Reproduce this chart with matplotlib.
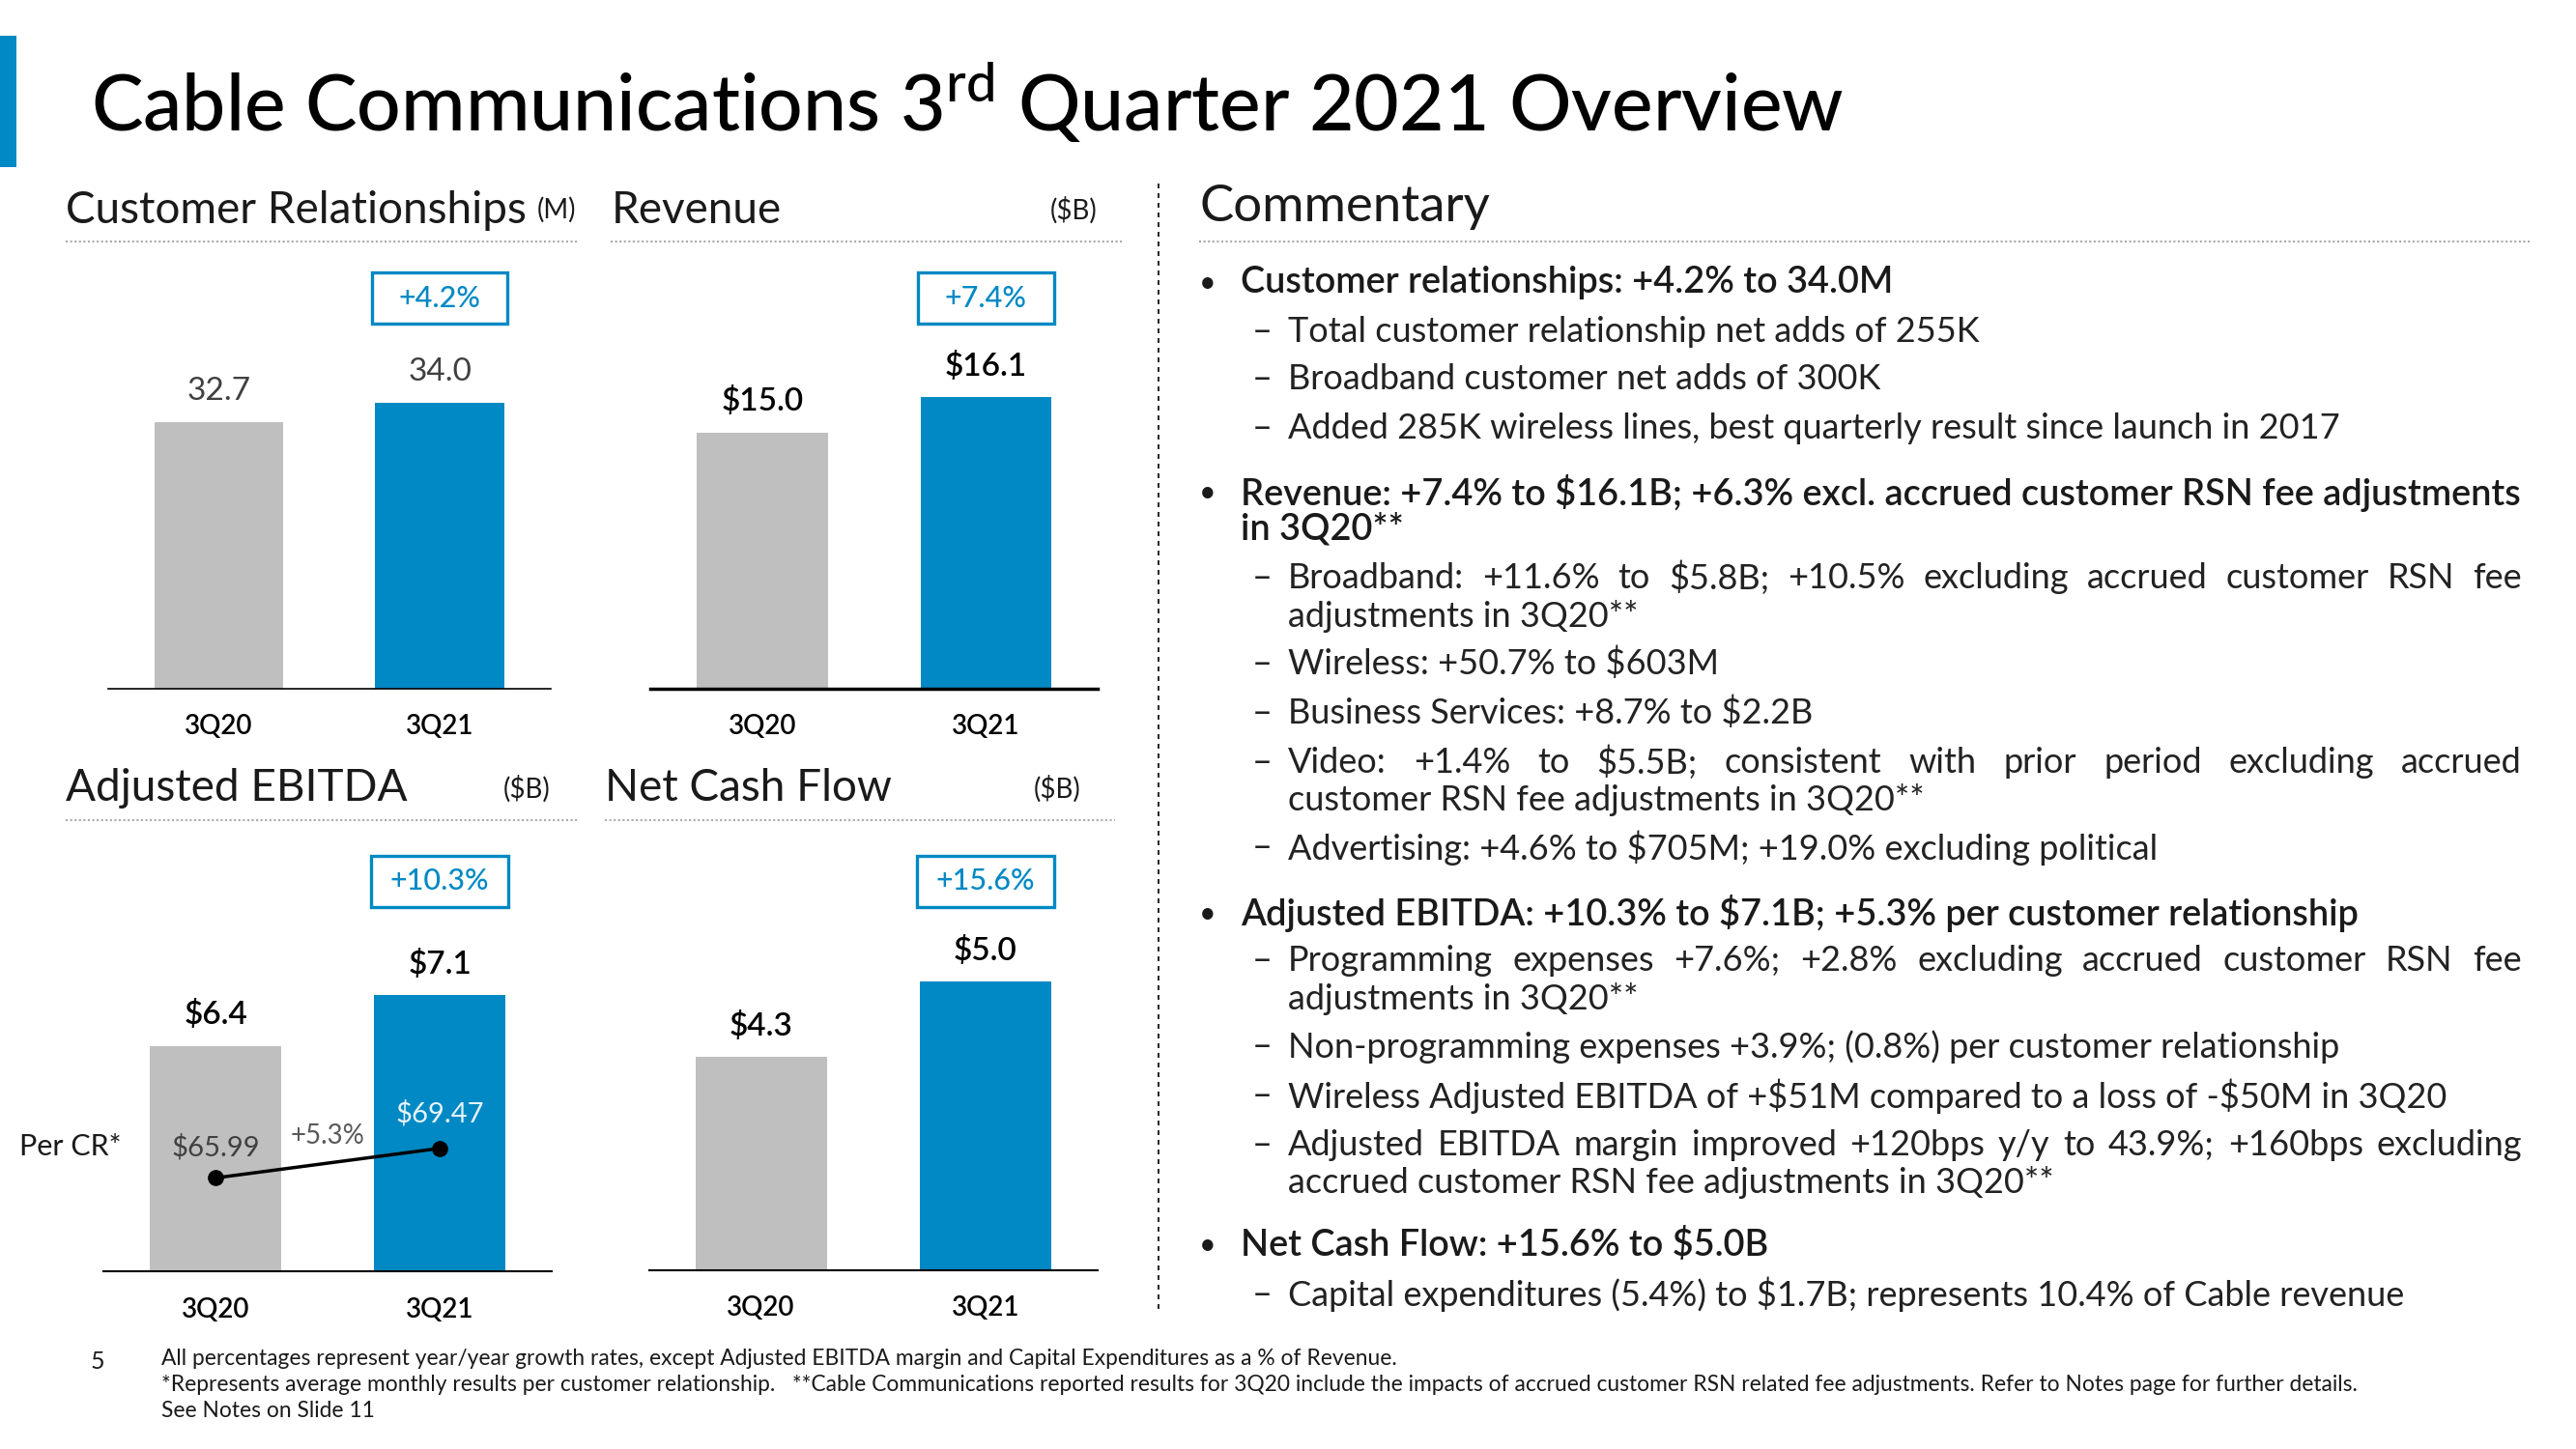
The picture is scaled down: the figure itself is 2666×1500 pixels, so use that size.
import matplotlib
matplotlib.use('Agg')
import matplotlib.pyplot as plt
import matplotlib.transforms as mtransforms
from matplotlib.lines import Line2D
from matplotlib.patches import Rectangle

plt.rcParams['font.family'] = ['Lato', 'DejaVu Sans']

# Datos
quarters = ['3Q20', '3Q21']
cust_rel = [32.7, 34.0]
revenue = [15.0, 16.1]
ebitda = [6.4, 7.1]
net_cash = [4.3, 5.0]
ebitda_per_cr = [65.99, 69.47]
growth = {'cr': '+4.2%', 'rev': '+7.4%', 'ebitda': '+10.3%', 'ncf': '+15.6%'}
per_cr_growth = '+5.3%'

BLUE = '#0089C4'
GRAY = '#BFBFBF'
DARK = '#1A1A1A'

# coordenadas de la diapositiva (vista 1568x882) -> fracción de figura
W, H = 1568, 882
def fx(x):
    return x / W
def fy(y):
    return 1 - y / H

fig = plt.figure(figsize=(26.66, 15), dpi=100)
renderer = fig.canvas.get_renderer()

# barra azul y título
fig.add_artist(Rectangle((0, fy(102)), fx(10), fy(22) - fy(102),
                         transform=fig.transFigure, color=BLUE, lw=0))
fig.text(fx(55), fy(62), r'Cable Communications 3$^{\mathregular{rd}}$ Quarter 2021 Overview',
         fontsize=58, weight='medium', color='black', va='center', ha='left')


def dotted(x0, x1, y):
    fig.add_artist(Line2D([fx(x0), fx(x1)], [fy(y), fy(y)], transform=fig.transFigure,
                          color='#AAAAAA', lw=1.5, linestyle=(0, (1, 1.2))))


def bar_panel(x0, x1, ybase, ytop, values, fmt, gtxt, ylim, box_y, base_lw,
              lab_color='black', lab_weight='semibold'):
    ax = fig.add_axes([fx(x0), fy(ybase), fx(x1) - fx(x0), fy(ytop) - fy(ybase)])
    ax.bar(range(len(values)), values, width=0.585, color=[GRAY, BLUE])
    ax.set_xlim(-0.5, 1.5)
    ax.set_ylim(ylim)
    for s in ['left', 'right', 'top']:
        ax.spines[s].set_visible(False)
    ax.spines['bottom'].set_linewidth(base_lw)
    ax.set_yticks([])
    ax.set_xticks(range(len(quarters)))
    ax.set_xticklabels(quarters, fontsize=20, weight='semibold', color='black')
    ax.tick_params(axis='x', length=0, pad=19)
    ax.patch.set_alpha(0)
    for i, v in enumerate(values):
        ax.annotate(fmt.format(v), (i, v), xytext=(0, 23), textcoords='offset points',
                    ha='center', va='center', fontsize=24, color=lab_color, weight=lab_weight)
    tr = mtransforms.blended_transform_factory(ax.transData, fig.transFigure)
    bw = 0.61
    ax.add_artist(Rectangle((1 - bw / 2, fy(box_y + 15.5)), bw, fy(box_y - 15.5) - fy(box_y + 15.5),
                            transform=tr, fill=False, edgecolor=BLUE, lw=2.4, clip_on=False))
    ax.text(1, fy(box_y), gtxt, transform=tr, ha='center', va='center',
            fontsize=22, color=BLUE, weight='medium')
    return ax


TITLE = dict(fontsize=33, weight='normal', va='center', color=DARK)
UNIT = dict(fontsize=20, weight='normal', va='center', color=DARK)

# Customer Relationships
fig.text(fx(40), fy(128), 'Customer Relationships', **TITLE)
fig.text(fx(327), fy(128), '(M)', **UNIT)
dotted(40, 352, 147)
bar_panel(66, 335, 419, 160, cust_rel, '{:.1f}', growth['cr'], (15.15, 43.2), 181.5, 1.2,
          lab_color='#404040', lab_weight='normal')

# Revenue
fig.text(fx(372), fy(128), 'Revenue', **TITLE)
fig.text(fx(668), fy(128), '($B)', ha='right', **UNIT)
dotted(372, 683, 147)
bar_panel(396, 668, 419, 160, revenue, '${:.1f}', growth['rev'], (7.0, 20.3), 181.5, 2.5)

# Adjusted EBITDA
fig.text(fx(40), fy(480), 'Adjusted EBITDA', **TITLE)
fig.text(fx(335), fy(480), '($B)', ha='right', **UNIT)
dotted(40, 352, 499)
ax_e = bar_panel(63, 336, 774, 510, ebitda, '${:.1f}', growth['ebitda'], (3.3, 9.26), 536.5, 1.5)

# línea por relación de cliente
ax_cr = ax_e.twinx()
ax_cr.set_ylim(54.97, 106.0)
ax_cr.axis('off')
ax_cr.plot(range(2), ebitda_per_cr, color='black', lw=2.5, marker='o', markersize=11)
ax_cr.annotate('${:.2f}'.format(ebitda_per_cr[0]), (0, ebitda_per_cr[0]), xytext=(0, 23),
               textcoords='offset points', ha='center', va='center', fontsize=21,
               color='#404040', weight='normal')
ax_cr.annotate('${:.2f}'.format(ebitda_per_cr[1]), (1, ebitda_per_cr[1]), xytext=(0, 26),
               textcoords='offset points', ha='center', va='center', fontsize=21,
               color='#E6F3FA', weight='normal')
ax_cr.annotate(per_cr_growth, (0.5, sum(ebitda_per_cr) / 2), xytext=(0, 20),
               textcoords='offset points', ha='center', va='center', fontsize=20,
               color='#595959', weight='normal')
fig.text(fx(12), fy(698), 'Per CR*', fontsize=22, weight='normal', va='center', color=DARK)

# Net Cash Flow
fig.text(fx(368), fy(480), 'Net Cash Flow', **TITLE)
fig.text(fx(658), fy(480), '($B)', ha='right', **UNIT)
dotted(368, 679, 499)
bar_panel(395, 668, 773, 510, net_cash, '${:.1f}', growth['ncf'], (2.33, 6.33), 536.5, 1.5)

# separador vertical
fig.add_artist(Line2D([fx(705), fx(705)], [fy(112), fy(798)], transform=fig.transFigure,
                      color='black', lw=1.2, linestyle=(0, (3, 3))))

# Commentary
fig.text(fx(730), fy(126), 'Commentary', fontsize=38, weight='normal', va='center', color=DARK)
dotted(730, 1541, 147)

# (tipo, y, texto, justificado)
commentary = [
    ('head', 172, 'Customer relationships: +4.2% to 34.0M', False),
    ('sub', 202, 'Total customer relationship net adds of 255K', False),
    ('sub', 231, 'Broadband customer net adds of 300K', False),
    ('sub', 261, 'Added 285K wireless lines, best quarterly result since launch in 2017', False),
    ('head', 300, 'Revenue: +7.4% to $16.1B; +6.3% excl. accrued customer RSN fee adjustments', False),
    ('headc', 322, 'in 3Q20**', False),
    ('sub', 352, 'Broadband: +11.6% to $5.8B; +10.5% excluding accrued customer RSN fee', True),
    ('subc', 375, 'adjustments in 3Q20**', False),
    ('sub', 404, 'Wireless: +50.7% to $603M', False),
    ('sub', 434, 'Business Services: +8.7% to $2.2B', False),
    ('sub', 464, 'Video: +1.4% to $5.5B; consistent with prior period excluding accrued', True),
    ('subc', 487, 'customer RSN fee adjustments in 3Q20**', False),
    ('sub', 516, 'Advertising: +4.6% to $705M; +19.0% excluding political', False),
    ('head', 556, 'Adjusted EBITDA: +10.3% to $7.1B; +5.3% per customer relationship', False),
    ('sub', 585, 'Programming expenses +7.6%; +2.8% excluding accrued customer RSN fee', True),
    ('subc', 608, 'adjustments in 3Q20**', False),
    ('sub', 637, 'Non-programming expenses +3.9%; (0.8%) per customer relationship', False),
    ('sub', 667, 'Wireless Adjusted EBITDA of +$51M compared to a loss of -$50M in 3Q20', False),
    ('sub', 697, 'Adjusted EBITDA margin improved +120bps y/y to 43.9%; +160bps excluding', True),
    ('subc', 720, 'accrued customer RSN fee adjustments in 3Q20**', False),
    ('head', 758, 'Net Cash Flow: +15.6% to $5.0B', False),
    ('sub', 788, 'Capital expenditures (5.4%) to $1.7B; represents 10.4% of Cable revenue', False),
]

FIG_W = fig.get_figwidth() * fig.dpi


def justified(text, x0, x1, y, **kw):
    words = text.split()
    ts = [fig.text(0, fy(y), w, va='center', ha='left', **kw) for w in words]
    widths = [t.get_window_extent(renderer).width / FIG_W for t in ts]
    gap = (fx(x1) - fx(x0) - sum(widths)) / (len(words) - 1)
    x = fx(x0)
    for t, w in zip(ts, widths):
        t.set_x(x)
        x += w + gap


body = dict(fontsize=26, weight='normal', color='#222222', parse_math=False)
head = dict(fontsize=27.3, weight='semibold', color=DARK, parse_math=False)
for kind, y, txt, just in commentary:
    if kind in ('head', 'headc'):
        if kind == 'head':
            fig.text(fx(730), fy(y), '•', va='center', fontsize=22, color=DARK)
        fig.text(fx(755), fy(y), txt, va='center', **head)
    else:
        if kind == 'sub':
            fig.text(fx(762), fy(y), '–', va='center', **body)
        if just:
            justified(txt, 784, 1535, y, **body)
        else:
            fig.text(fx(784), fy(y), txt, va='center', **body)

# pie de página
fig.text(fx(55), fy(829), '5', fontsize=18, weight='normal', va='center', color=DARK)
foot = [
    'All percentages represent year/year growth rates, except Adjusted EBITDA margin and Capital Expenditures as a % of Revenue.',
    '*Represents average monthly results per customer relationship.   **Cable Communications reported results for 3Q20 include the impacts of accrued customer RSN related fee adjustments. Refer to Notes page for further details.',
    'See Notes on Slide 11',
]
for i, line in enumerate(foot):
    fig.text(fx(98), fy(827 + 16 * i), line, fontsize=16.4, weight='normal', va='center',
             color=DARK, parse_math=False)

fig.savefig('out.png', dpi=100)
